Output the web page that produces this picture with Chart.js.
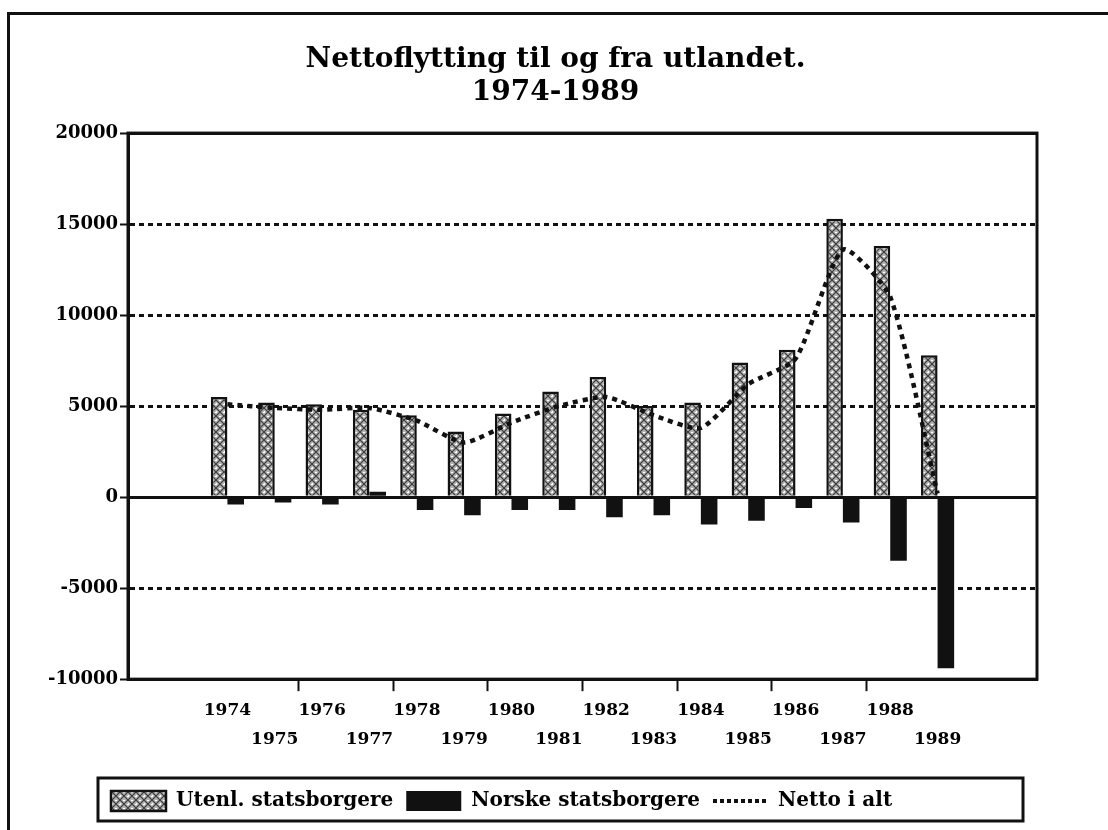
<!DOCTYPE html>
<html>
<head>
<meta charset="utf-8">
<title>Nettoflytting til og fra utlandet</title>
<script src="https://cdn.jsdelivr.net/npm/chart.js@4"></script>
<style>
  html, body { margin: 0; padding: 0; background: #fff; overflow: hidden; }
  #wrap { position: relative; width: 1108px; height: 830px; }
  #frame { position: absolute; left: 7px; top: 12px; right: -20px; bottom: -20px;
           border-left: 3px solid #111; border-top: 3px solid #111; pointer-events: none; }
</style>
</head>
<body>
<div id="wrap">
  <canvas id="chart" width="1108" height="830"></canvas>
  <div id="frame"></div>
</div>
<script>
let years = [1974, 1975, 1976, 1977, 1978, 1979, 1980, 1981, 1982, 1983, 1984, 1985, 1986, 1987, 1988, 1989];
let utenlandske = [5500, 5200, 5100, 4800, 4500, 3600, 4600, 5800, 6600, 5000, 5200, 7400, 8100, 15300, 13800, 7800];
let norske = [-400, -300, -400, 300, -700, -1000, -700, -700, -1100, -1000, -1500, -1300, -600, -1400, -3500, -9400];
let netto = [5100, 4900, 4800, 4900, 4200, 3000, 4100, 5000, 5500, 4500, 3800, 6200, 7600, 13600, 11000, 200];
let titleLines = ["Nettoflytting til og fra utlandet.", "1974-1989"];

let serif = "'DejaVu Serif', 'Liberation Serif', serif";

function makeStipple() {
    let p = document.createElement("canvas");
    p.width = 8;
    p.height = 8;
    let c = p.getContext("2d");
    c.fillStyle = "#b4b4b4";
    c.fillRect(0, 0, 8, 8);
    c.strokeStyle = "#3a3a3a";
    c.lineWidth = 1.2;
    c.beginPath();
    c.moveTo(0, 0); c.lineTo(8, 8);
    c.moveTo(8, 0); c.lineTo(0, 8);
    c.stroke();
    c.fillStyle = "#fff";
    c.fillRect(3, 0, 2, 1);
    c.fillRect(0, 3, 1, 2);
    c.fillRect(7, 4, 1, 1);
    return c.createPattern(p, "repeat");
}

// outline of plot and legend; legend and title placed relative to the plot
let boxesPlugin = {
    id: "boxes",
    afterLayout(chart) {
        let lg = chart.legend, a = chart.chartArea, t = chart.titleBlock;
        lg.left = a.left - 30;
        lg.right = a.right - 14;
        lg.width = lg.right - lg.left;
        t.left = a.left - 54;
        t.right = a.right;
        t.width = t.right - t.left;
    },
    afterDraw(chart) {
        let c = chart.ctx, a = chart.chartArea, lg = chart.legend;
        c.save();
        c.strokeStyle = "#111";
        c.lineWidth = 3;
        c.strokeRect(a.left, a.top, a.right - a.left, a.bottom - a.top);
        c.strokeRect(lg.left, lg.top, lg.width, lg.height);
        c.restore();
    }
};

let ctx = document.getElementById("chart").getContext("2d");
let stipple = makeStipple();

new Chart(ctx, {
    type: "bar",
    data: {
        labels: years,
        datasets: [
            {
                label: "Utenl. statsborgere",
                data: utenlandske,
                backgroundColor: stipple,
                borderColor: "#111",
                borderWidth: 2.5,
                pointStyle: "rect",
                order: 1
            },
            {
                label: "Norske statsborgere",
                data: norske,
                backgroundColor: "#111",
                borderColor: "#111",
                borderWidth: 0,
                pointStyle: "rect",
                order: 1
            },
            {
                type: "line",
                label: "Netto i alt",
                data: netto,
                borderColor: "#111",
                backgroundColor: "#111",
                borderWidth: 4.5,
                borderDash: [5, 5],
                pointRadius: 0,
                pointStyle: "line",
                tension: 0.2,
                fill: false,
                order: 0
            }
        ]
    },
    options: {
        responsive: false,
        animation: false,
        devicePixelRatio: 1,
        layout: { padding: { left: 44, right: 71, top: 0, bottom: 9 } },
        datasets: {
            bar: { categoryPercentage: 0.7, barPercentage: 1.0 }
        },
        plugins: {
            title: {
                display: true,
                text: titleLines,
                color: "#000",
                font: { family: serif, size: 28, weight: "bold", lineHeight: 1.18 },
                padding: { top: 43, bottom: 24 }
            },
            legend: {
                display: true,
                position: "bottom",
                align: "start",
                labels: {
                    color: "#000",
                    font: { family: serif, size: 20, weight: "bold" },
                    usePointStyle: true,
                    pointStyleWidth: 55,
                    padding: 13,
                    sort: (a, b) => a.datasetIndex - b.datasetIndex,
                    generateLabels: (chart) => {
                        let items = Chart.defaults.plugins.legend.labels.generateLabels(chart);
                        items.forEach(it => {
                            if (it.datasetIndex === 2) {
                                it.lineDash = [4, 3];
                                it.lineWidth = 4;
                                it.strokeStyle = "#111";
                            }
                        });
                        return items;
                    }
                }
            },
            tooltip: { enabled: false }
        },
        scales: {
            x: {
                type: "linear",
                offset: false,
                min: 1971.9,
                max: 1991.1,
                afterBuildTicks: (s) => { s.ticks = years.map(v => ({ value: v })); },
                afterFit: (s) => { s.height += 19; },
                ticks: {
                    autoSkip: false,
                    maxRotation: 0,
                    color: "#000",
                    padding: 4,
                    font: { family: serif, size: 17, weight: "bold", lineHeight: 1.76 },
                    callback: (v) => (v % 2 === 0 ? String(v) : ["", String(v)])
                },
                grid: {
                    offset: true,
                    drawOnChartArea: false,
                    tickLength: 12,
                    tickWidth: 2,
                    tickColor: (c) => (c.tick && c.tick.value % 2 === 0 && c.tick.value > 1974 ? "#111" : "rgba(0,0,0,0)")
                },
                border: { display: true, color: "#111", width: 3 }
            },
            y: {
                min: -10000,
                max: 20000,
                afterFit: (s) => { s.width = 84; },
                ticks: {
                    stepSize: 5000,
                    color: "#000",
                    padding: 2,
                    font: { family: serif, size: 18, weight: "bold" },
                    callback: (v) => String(v)
                },
                grid: {
                    color: "#111",
                    lineWidth: 3,
                    tickLength: 8,
                    tickWidth: 2,
                    tickColor: "#111"
                },
                border: {
                    display: true,
                    color: "#111",
                    width: 3,
                    dash: (c) => {
                        if (!c.tick) return [];
                        let v = c.tick.value;
                        return (v === 0 || v === 20000 || v === -10000) ? [] : [5, 4];
                    }
                }
            }
        }
    },
    plugins: [boxesPlugin]
});
</script>
</body>
</html>
